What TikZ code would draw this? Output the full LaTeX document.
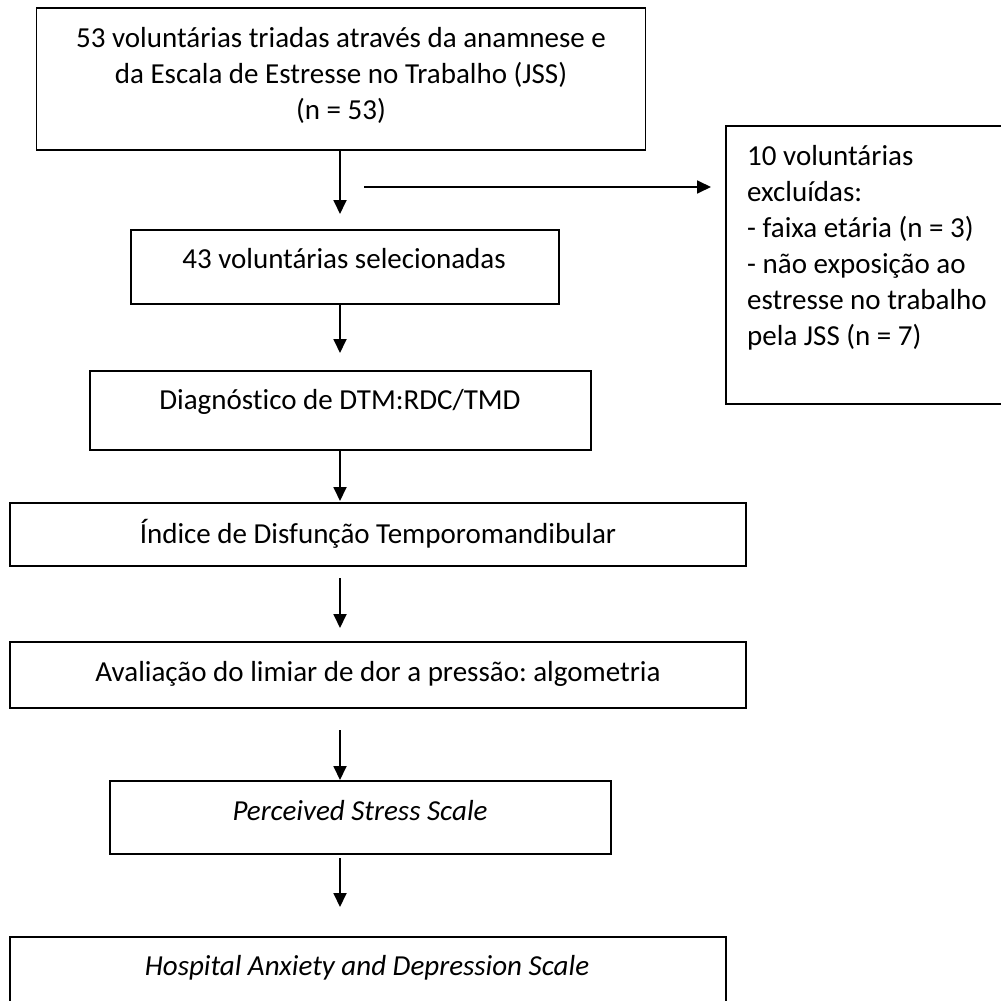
\documentclass[tikz,border=0pt]{standalone}
\usepackage{fontspec}
\setmainfont{Carlito}[Ligatures=NoCommon]
\frenchspacing
\usetikzlibrary{arrows.meta}
\begin{document}
\begin{tikzpicture}[x=1pt,y=-1pt,
  boxnode/.style={draw, line width=1.8pt, inner sep=0pt},
  txt/.style={font=\fontsize{29}{35}\selectfont, inner sep=0pt, anchor=base},
  rtxt/.style={font=\fontsize{29}{35}\selectfont, inner sep=0pt, anchor=base west},
  arr/.style={line width=1.8pt, -{Triangle[width=13pt,length=14pt]}}]
\useasboundingbox (0,0) rectangle (1001,1001);
% boxes
\node[boxnode, minimum width=609pt, minimum height=142pt] (b1) at (341,79) {};
\node[boxnode, minimum width=428pt, minimum height=74pt] (b2) at (345,267) {};
\node[boxnode, minimum width=501pt, minimum height=79pt] (b3) at (340.5,410.5) {};
\node[boxnode, minimum width=736pt, minimum height=63pt] (b4) at (378,534.5) {};
\node[boxnode, minimum width=736pt, minimum height=66pt] (b5) at (378,675) {};
\node[boxnode, minimum width=501pt, minimum height=73pt] (b6) at (360.5,817.5) {};
\node[boxnode, minimum width=716pt, minimum height=100pt] (b7) at (368,987) {};
\node[boxnode, minimum width=300pt, minimum height=278pt] (rb) at (876,265) {};
% texts
\node[txt] (t1a) at (341,47) {53 voluntárias triadas através da anamnese e};
\node[txt] (t1b) at (341,83) {da Escala de Estresse no Trabalho (JSS)};
\node[txt] (t1c) at (341,119) {(n = 53)};
\node[txt] (t2) at (344,268) {43 voluntárias selecionadas};
\node[txt] (t3) at (340,409) {Diagnóstico de DTM:RDC/TMD};
\node[txt] (t4) at (378,543) {Índice de Disfunção Temporomandibular};
\node[txt] (t5) at (378,681) {Avaliação do limiar de dor a pressão: algometria};
\node[txt] (t6) at (360,820) {\itshape Perceived Stress Scale};
\node[txt] (t7) at (367,975) {\itshape Hospital Anxiety and Depression Scale};
\node[rtxt] (r1) at (747,165) {10 voluntárias};
\node[rtxt] (r2) at (747,201) {excluídas:};
\node[rtxt] (r3) at (747,237) {- faixa etária (n = 3)};
\node[rtxt] (r4) at (747,273) {- não exposição ao};
\node[rtxt] (r5) at (747,309) {estresse no trabalho};
\node[rtxt] (r6) at (747,345) {pela JSS (n = 7)};
% arrow coordinates
\coordinate (e1) at (340,214);
\coordinate (e2) at (340,353);
\coordinate (e3) at (340,501);
\coordinate (s4) at (340,578);
\coordinate (e4) at (340,628);
\coordinate (s5) at (340,730);
\coordinate (e5) at (340,780);
\coordinate (s6) at (340,858);
\coordinate (e6) at (340,907);
\coordinate (hs) at (364,187);
\coordinate (he) at (711,187);
% arrows
\draw[arr] (b1.south -| e1) -- (e1);
\draw[arr] (b2.south -| e2) -- (e2);
\draw[arr] (b3.south -| e3) -- (e3);
\draw[arr] (s4) -- (e4);
\draw[arr] (s5) -- (e5);
\draw[arr] (s6) -- (e6);
\draw[arr] (hs) -- (he);
\end{tikzpicture}
\end{document}
